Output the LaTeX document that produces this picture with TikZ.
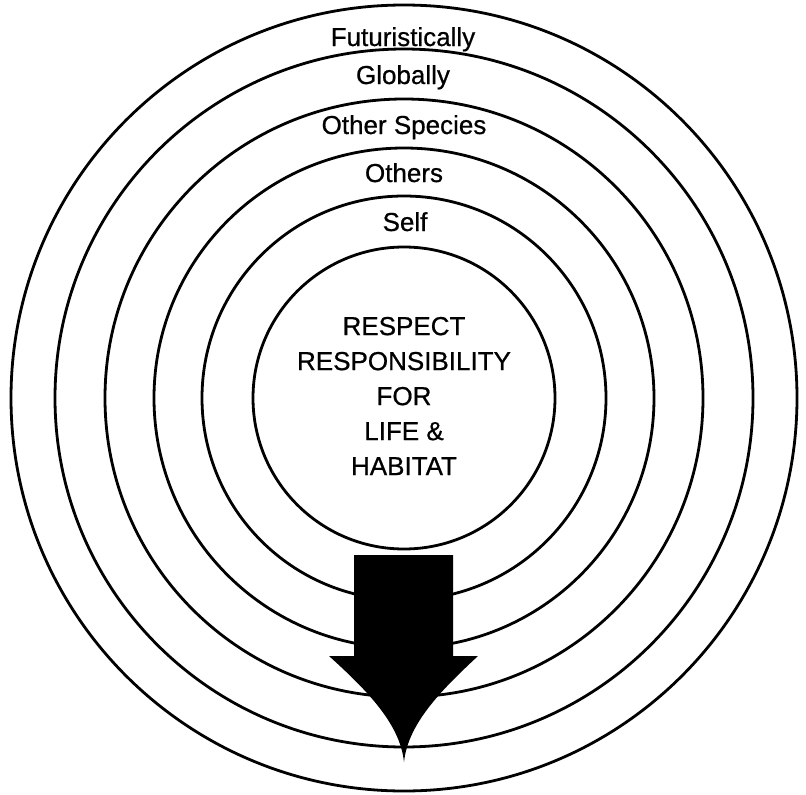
\documentclass[tikz,border=0pt]{standalone}
\usepackage{fontspec}
\setmainfont{Liberation Sans}
\newfontfamily\scanfont[FakeBold=0.7]{Liberation Sans}

\begin{document}
\begin{tikzpicture}[
      x=1pt, y=-1pt,
      ring/.style={circle, draw, line width=2.8pt, inner sep=0pt},
      lbl/.style={anchor=base, inner sep=0pt, font=\scanfont\fontsize{26}{35}\selectfont},
      coretext/.style={align=center, inner sep=0pt, font=\scanfont\fontsize{26}{35}\selectfont}
    ]
    \useasboundingbox (0,0) rectangle (806,795);

    \foreach \r/\n in {393/futur, 349/glob, 299/spec, 250/oth, 202/self, 151/core}
      \node[ring, minimum size={2*\r pt}] (\n) at (404,398) {};

    \node[lbl] (futur-l) at (403,46)  {Futuristically};
    \node[lbl] (glob-l)  at (403,84)  {Globally};
    \node[lbl] (spec-l)  at (404,134) {Other Species};
    \node[lbl] (oth-l)   at (404,182) {Others};
    \node[lbl] (self-l)  at (405,231) {Self};

    \node[coretext] (resp) at (404,396) {RESPECT\\RESPONSIBILITY\\FOR\\LIFE \&\\HABITAT};

    \fill (354,555) -- (453,555) -- (453,656) -- (478,656)
      .. controls (438,693) and (408,725) .. (404,762)
      .. controls (400,725) and (370,693) .. (329,656)
      -- (354,656) -- cycle;
  \end{tikzpicture}
\end{document}
